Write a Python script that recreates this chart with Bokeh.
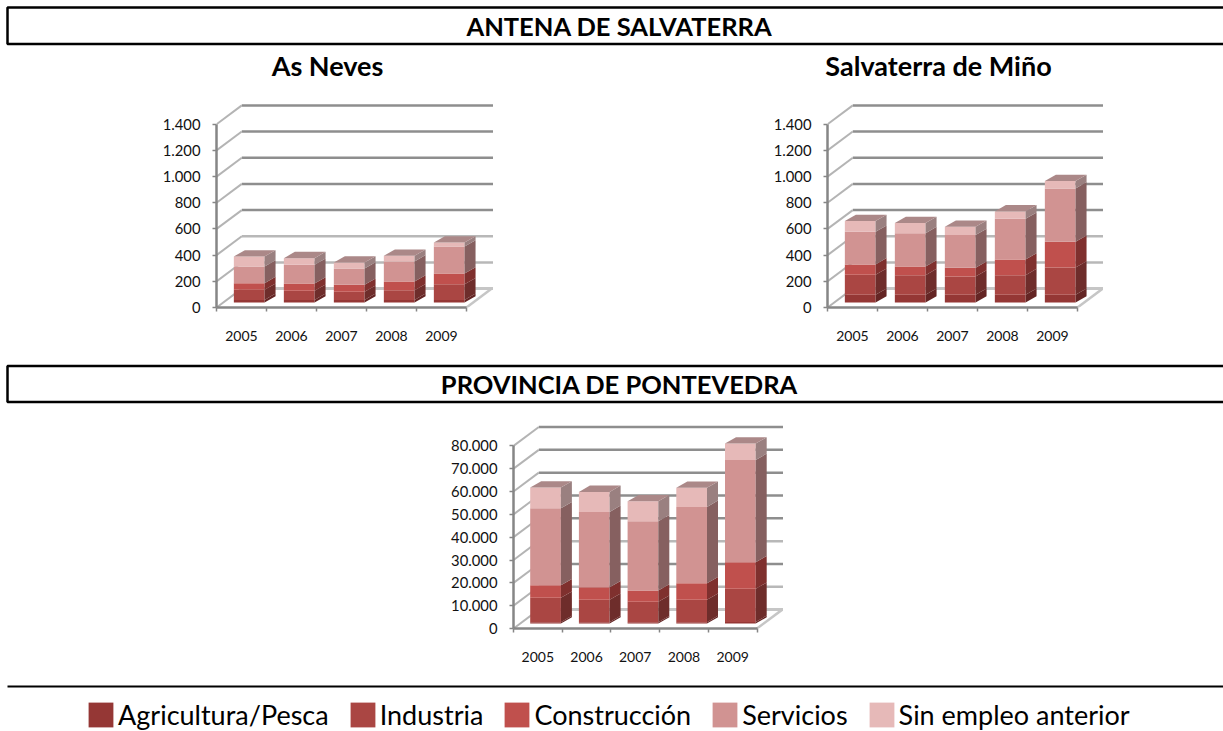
from bokeh.plotting import figure
from bokeh.layouts import column, row
from bokeh.models import Range1d, FixedTicker, Label, Legend, LegendItem
from bokeh.embed import file_html
from bokeh.resources import INLINE

years = [2005, 2006, 2007, 2008, 2009]
series_names = ["Agricultura/Pesca", "Industria", "Construcción", "Servicios", "Sin empleo anterior"]

neves_agri = [20, 20, 20, 20, 20]
neves_ind = [77, 69, 62, 74, 120]
neves_con = [51, 56, 53, 67, 82]
neves_ser = [127, 143, 125, 153, 206]
neves_sin = [77, 51, 46, 43, 31]

salva_agri = [59, 59, 59, 59, 59]
salva_ind = [153, 150, 140, 150, 209]
salva_con = [79, 66, 66, 120, 196]
salva_ser = [250, 255, 250, 311, 408]
salva_sin = [81, 77, 64, 56, 56]

ponte_agri = [600, 600, 500, 600, 700]
ponte_ind = [10640, 9760, 8990, 9760, 14480]
ponte_con = [5550, 5550, 4960, 7300, 11680]
ponte_ser = [33720, 32990, 30370, 33430, 44820]
ponte_sin = [9050, 8760, 8760, 8330, 7150]

ticks_small = [0, 200, 400, 600, 800, 1000, 1200, 1400]
labels_small = ["0", "200", "400", "600", "800", "1.000", "1.200", "1.400"]
ticks_big = [0, 10000, 20000, 30000, 40000, 50000, 60000, 70000, 80000]
labels_big = ["0", "10.000", "20.000", "30.000", "40.000", "50.000", "60.000", "70.000", "80.000"]

FRONT = ["#953735", "#AA4643", "#C0504D", "#D19392", "#E6B9B8"]
SIDE = ["#642524", "#6E2D2B", "#7F302E", "#866060", "#9A8080"]
TOP = "#AB8888"
FONT = "Lato"
AXIS = "#868686"
GRID = "#8E8E8E"
GRID_LIGHT = "#B8B8B8"
WALL = "#B4B4B4"
FLOOR = "#C6C6C6"
TOTAL_W = 1223


def chart(series, ticks, tick_labels, light, border_left, frame_w, frame_h, border_bottom, px_cat, px_unit):
    ux = 1 / px_cat
    uy = 1 / px_unit
    x0 = years[0] - 0.5
    x1 = years[-1] + 0.5
    p = figure(width=border_left + frame_w, height=frame_h + border_bottom,
               x_range=Range1d(x0, x0 + frame_w * ux), y_range=Range1d(0, frame_h * uy),
               min_border_left=border_left, min_border_right=0, min_border_top=0,
               min_border_bottom=border_bottom, toolbar_location=None, output_backend="svg")
    p.outline_line_color = None
    p.xgrid.visible = False
    p.ygrid.visible = False

    wall_dx, wall_dy = 25.3 * ux, 18.9 * uy
    for t in ticks[1:]:
        p.line([x0 + wall_dx, x0 + frame_w * ux], [t + wall_dy, t + wall_dy],
               line_color=GRID_LIGHT if t in light else GRID, line_width=2.5)
        p.line([x0, x0 + wall_dx], [t, t + wall_dy], line_color=WALL, line_width=2)
    p.line([x0, x0 + wall_dx], [0, wall_dy], line_color=WALL, line_width=2)
    p.line([x0 + wall_dx, x0 + frame_w * ux], [wall_dy, wall_dy], line_color=FLOOR, line_width=3)
    p.line([x1, x1 + wall_dx], [0, wall_dy], line_color=FLOOR, line_width=2.5)

    off_x, off_y = 7.7 * ux, 5 * uy
    bw = 30.7 * ux
    sd_x, sd_y = 11 * ux, 6.3 * uy
    base = [off_y] * len(years)
    for vals, fc, sc in zip(series, FRONT, SIDE):
        tops = [b + v for b, v in zip(base, vals)]
        cx = [y + off_x for y in years]
        p.vbar(x=cx, width=bw, bottom=base, top=tops, fill_color=fc, line_color=None)
        p.patches([[c + bw / 2, c + bw / 2 + sd_x, c + bw / 2 + sd_x, c + bw / 2] for c in cx],
                  [[b, b + sd_y, t + sd_y, t] for b, t in zip(base, tops)],
                  fill_color=sc, line_color=None)
        base = tops
    cx = [y + off_x for y in years]
    p.patches([[c - bw / 2, c - bw / 2 + sd_x, c + bw / 2 + sd_x, c + bw / 2] for c in cx],
              [[t, t + sd_y, t + sd_y, t] for t in base],
              fill_color=TOP, line_color=None)

    ya = p.yaxis[0]
    ya.ticker = FixedTicker(ticks=ticks)
    ya.major_label_overrides = dict(zip(ticks, tick_labels))
    ya.bounds = (ticks[0], ticks[-1])
    ya.axis_line_color = AXIS
    ya.axis_line_width = 2.5
    ya.major_tick_line_color = AXIS
    ya.major_tick_line_width = 1.5
    ya.major_tick_out = 4
    ya.major_tick_in = 0
    ya.minor_tick_out = 0
    ya.minor_tick_in = 0
    ya.major_label_standoff = 12
    ya.major_label_text_font = FONT
    ya.major_label_text_font_size = "14.8px"
    ya.major_label_text_color = "#111111"

    xa = p.xaxis[0]
    xa.ticker = FixedTicker(ticks=years, minor_ticks=[y - 0.5 for y in years] + [x1])
    xa.major_label_overrides = {y: str(y) for y in years}
    xa.bounds = (x0, x1)
    xa.axis_line_color = AXIS
    xa.axis_line_width = 2.5
    xa.major_tick_out = 0
    xa.major_tick_in = 0
    xa.minor_tick_out = 4
    xa.minor_tick_in = 0
    xa.minor_tick_line_color = AXIS
    xa.minor_tick_line_width = 1.5
    xa.major_label_standoff = 19
    xa.major_label_text_font = FONT
    xa.major_label_text_font_size = "14px"
    xa.major_label_text_color = "#111111"
    return p


def panel(h):
    p = figure(width=TOTAL_W, height=h, x_range=Range1d(0, TOTAL_W), y_range=Range1d(h, 0),
               min_border=0, toolbar_location=None, output_backend="svg")
    p.outline_line_color = None
    p.axis.visible = False
    p.grid.visible = False
    return p


def band(p, top, bottom, text):
    p.quad(left=[7], right=[TOTAL_W + 10], top=[top], bottom=[bottom], fill_color=None,
           line_color="black", line_width=2.5)
    p.add_layout(Label(x=619, y=(top + bottom) / 2, text=text, text_font=FONT,
                       text_font_style="bold", text_font_size="25.5px", text_align="center",
                       text_baseline="middle", text_color="black"))


head = panel(100)
band(head, 7, 43.5, "ANTENA DE SALVATERRA")
for xc, t in [(327, "As Neves"), (938, "Salvaterra de Miño")]:
    head.add_layout(Label(x=xc, y=65, text=t, text_font=FONT, text_font_style="bold",
                          text_font_size="27px", text_align="center", text_baseline="middle",
                          text_color="black"))

neves = chart([neves_agri, neves_ind, neves_con, neves_ser, neves_sin], ticks_small, labels_small, [200, 400],
              216, 277, 207, 38, 50.0, 183.2 / 1400)
salva = chart([salva_agri, salva_ind, salva_con, salva_ser, salva_sin], ticks_small, labels_small, [200, 400],
              334, 276, 207, 38, 50.0, 183.2 / 1400)

mid = panel(77)
band(mid, 20.5, 56.5, "PROVINCIA DE PONTEVEDRA")

ponte = chart([ponte_agri, ponte_ind, ponte_con, ponte_ser, ponte_sin], ticks_big, labels_big, [10000, 30000],
              513, 270, 206, 37, 48.7, 182.6 / 80000)

bottom = panel(66)
bottom.line([7, TOTAL_W], [21, 21], line_color="black", line_width=2)
items = []
for name, c in zip(series_names, FRONT):
    r = bottom.quad(left=[-20], right=[-10], top=[-20], bottom=[-10], fill_color=c, line_color=None)
    items.append(LegendItem(label=name, renderers=[r]))
leg = Legend(items=items, orientation="horizontal", location=(85, 0), glyph_width=31, glyph_height=31,
             label_text_font=FONT, label_text_font_size="27px", label_text_color="black",
             label_standoff=2, spacing=18, padding=0, margin=0, border_line_color=None,
             background_fill_color=None, label_height=31)
bottom.add_layout(leg, "center")

page = column(row(head), row(neves, salva, spacing=0), row(mid), row(ponte), row(bottom), spacing=0)
open("out.html", "w").write(file_html(page, INLINE))
